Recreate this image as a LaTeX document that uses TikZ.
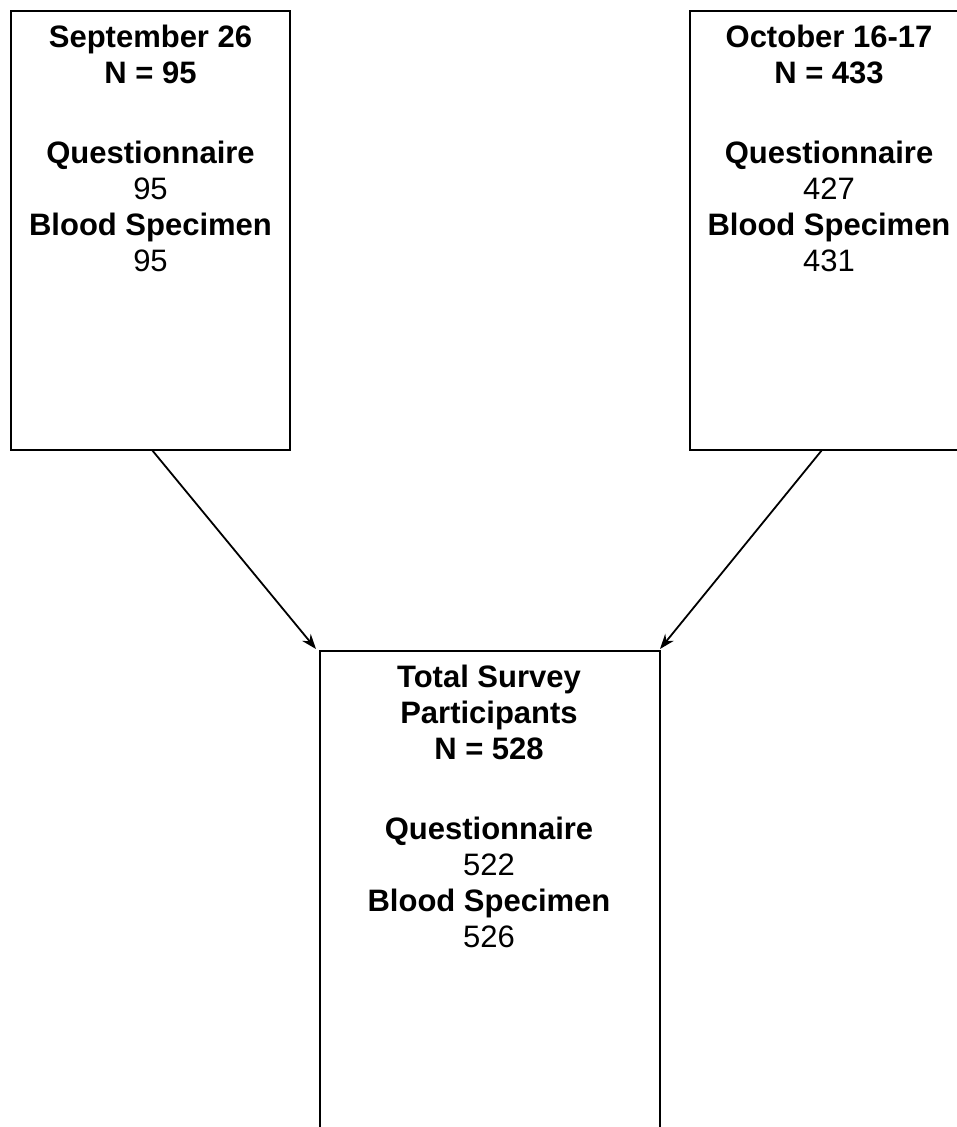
\documentclass[tikz,border=0pt]{standalone}
\usepackage{fontspec}
\setmainfont{Liberation Sans}
\usetikzlibrary{arrows.meta}
\tikzset{
  box/.style={draw=black, line width=2pt},
  lbl/.style={anchor=north, align=center, inner sep=0pt, font=\fontsize{31}{36}\selectfont},
  conn/.style={draw=black, line width=1.8pt, -{Stealth[length=15pt,width=11pt]}}
}
\begin{document}
\begin{tikzpicture}[x=1pt,y=-1pt]
\useasboundingbox (0,0) rectangle (957,1127);
\clip (0,0) rectangle (957,1127);
\coordinate (a1) at (11,11);
\coordinate (a2) at (290,450);
\coordinate (b1) at (690,11);
\coordinate (b2) at (968,450);
\coordinate (c1) at (320,651);
\coordinate (c2) at (660,1200);
\draw[box] (a1) rectangle (a2);
\draw[box] (b1) rectangle (b2);
\draw[box] (c1) rectangle (c2);
\node[lbl] (ta) at (150.5,25) {\textbf{September 26}\\\textbf{N = 95}\\[44pt]\textbf{Questionnaire}\\95\\\textbf{Blood Specimen}\\95};
\node[lbl] (tb) at (829,25) {\textbf{October 16-17}\\\textbf{N = 433}\\[44pt]\textbf{Questionnaire}\\427\\\textbf{Blood Specimen}\\431};
\node[lbl] (tc) at (489,665) {\textbf{Total Survey}\\\textbf{Participants}\\\textbf{N = 528}\\[44pt]\textbf{Questionnaire}\\522\\\textbf{Blood Specimen}\\526};
\coordinate (sa) at (152,450);
\coordinate (sb) at (822,450);
\coordinate (ea) at (316,649);
\coordinate (eb) at (660,649);
\draw[conn] (sa) -- (ea);
\draw[conn] (sb) -- (eb);
\end{tikzpicture}
\end{document}
